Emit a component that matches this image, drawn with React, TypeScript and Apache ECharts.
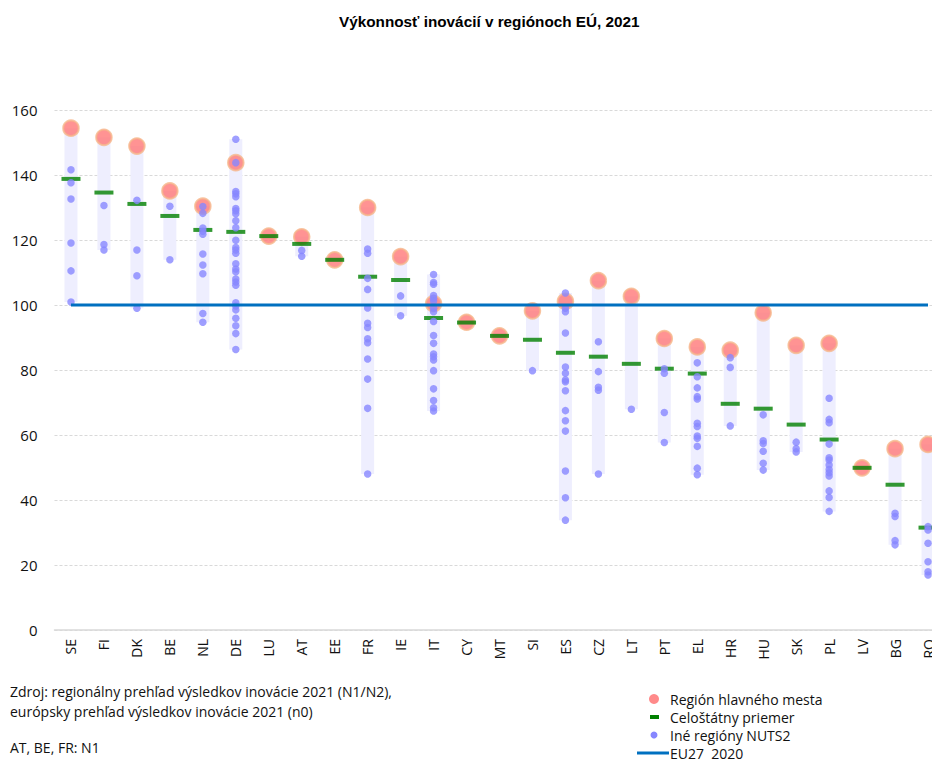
import React, { useEffect, useRef } from "react";
import * as echarts from "echarts";

const categories = ["SE","FI","DK","BE","NL","DE","LU","AT","EE","FR","IE","IT","CY","MT","SI","ES","CZ","LT","PT","EL","HR","HU","SK","PL","LV","BG","RO"];

const capitalRegion = [154.4,151.6,148.9,135.1,130.4,143.8,121.2,121.0,113.9,130.0,114.9,100.4,94.7,90.5,98.2,101.1,107.5,102.7,89.7,87.1,86.1,97.6,87.6,88.2,49.9,55.8,57.1];

const nationalAverage = [138.8,134.6,131.1,127.4,123.1,122.5,121.2,118.8,113.9,108.7,107.7,96.0,94.6,90.5,89.3,85.3,84.1,81.9,80.4,78.9,69.6,68.1,63.2,58.6,49.9,44.7,31.5];

const otherRegions: number[][] = [
  [141.6,137.6,132.6,119.1,110.5,100.9],
  [130.6,118.6,116.9],
  [132.2,116.9,109.0,99.0],
  [130.4,113.9],
  [130.3,128.2,123.7,122.7,121.8,115.7,112.3,109.6,97.4,94.7],
  [151.0,143.8,134.9,134.2,133.3,129.7,129.0,128.1,125.9,123.8,119.9,117.7,116.9,115.9,112.7,111.1,110.2,108.0,107.1,106.1,100.7,99.7,98.5,95.9,93.6,91.2,86.3],
  [],
  [116.8,115.0],
  [],
  [117.2,115.9,108.2,104.8,99.1,94.4,93.1,89.6,88.4,83.4,77.2,68.2,48.0],
  [102.8,96.7],
  [109.4,106.9,106.4,102.9,102.1,101.2,99.0,97.9,94.9,90.6,88.2,84.9,84.1,83.1,79.8,74.2,70.6,68.4,67.4],
  [],
  [],
  [79.8],
  [103.7,99.0,97.9,91.4,80.9,79.0,76.9,76.4,73.6,67.5,64.4,61.2,48.9,40.7,33.8],
  [88.7,79.5,74.7,73.8,48.0],
  [67.9],
  [80.4,79.0,66.9,57.7],
  [82.2,77.9,74.5,71.8,71.1,63.6,62.6,59.7,59.0,56.5,49.8,47.8],
  [83.8,80.8,62.8],
  [66.2,58.2,57.4,55.0,51.3,49.2],
  [57.8,55.8,54.8],
  [71.3,64.8,63.8,57.2,53.0,52.3,50.8,49.4,48.4,47.4,42.8,40.8,36.5],
  [],
  [35.9,34.9,27.5,26.2],
  [31.8,30.8,26.7,21.0,17.9,16.9],
];

const euReference = 100;
const yTicks = { min: 0, max: 160, interval: 20 };

const legendNames = ["Región hlavného mesta", "Celoštátny priemer", "Iné regióny NUTS2", "EU27  2020"];
const sourceLines = [
  "Zdroj: regionálny prehľad výsledkov inovácie 2021 (N1/N2),",
  "európsky prehľad výsledkov inovácie 2021 (n0)",
];
const noteLine = "AT, BE, FR: N1";
const titleText = "Výkonnosť inovácií v regiónoch EÚ, 2021";

const FONT = "'Open Sans', 'Noto Sans', sans-serif";

export default function App() {
  const ref = useRef<HTMLDivElement>(null);

  useEffect(() => {
    document.body.style.margin = "0";
    if (!ref.current) return;
    const chart = echarts.init(ref.current, null, { renderer: "svg" });

    const bandMin = categories.map((_, i) => {
      const all = [capitalRegion[i], ...otherRegions[i]];
      return Math.min(...all);
    });
    const bandRange = categories.map((_, i) => {
      const all = [capitalRegion[i], ...otherRegions[i]];
      return Math.max(...all) - Math.min(...all);
    });
    const otherPoints: [number, number][] = [];
    otherRegions.forEach((arr, i) => arr.forEach((v) => otherPoints.push([i, v])));

    const legendX = 639;
    const legendTextX = 670;
    const legendY = [699, 717, 735, 753];

    chart.setOption({
      animation: false,
      title: {
        text: titleText,
        left: 334,
        top: 9,
        textStyle: { fontFamily: "'Liberation Sans', Arial, sans-serif", fontWeight: "bold", fontSize: 15.3, color: "#000" },
      },
      grid: { left: 54.5, width: 890, top: 110, height: 520, containLabel: false, outerBoundsMode: "none" },
      xAxis: {
        type: "category",
        data: categories,
        boundaryGap: true,
        axisLine: { lineStyle: { color: "#d9d9d9", width: 1.5 } },
        axisTick: { show: false },
        axisLabel: { rotate: 90, fontSize: 14, color: "#111", fontFamily: FONT, margin: 9, interval: 0 },
      },
      yAxis: {
        type: "value",
        min: yTicks.min,
        max: yTicks.max,
        interval: yTicks.interval,
        axisLine: { show: false },
        axisTick: { show: false },
        axisLabel: { fontSize: 15, color: "#111", fontFamily: FONT, margin: 17 },
        splitLine: { lineStyle: { color: "#d9d9d9", type: [3, 2], width: 1 } },
      },
      series: [
        {
          type: "bar",
          stack: "band",
          data: bandMin,
          barWidth: 13,
          itemStyle: { color: "rgba(0,0,0,0)" },
          silent: true,
        },
        {
          type: "bar",
          stack: "band",
          data: bandRange,
          barWidth: 13,
          itemStyle: { color: "#EEEEFE" },
          silent: true,
        },
        {
          name: legendNames[3],
          type: "line",
          data: categories.map(() => euReference),
          symbol: "none",
          lineStyle: { color: "#0070C0", width: 3 },
        },
        {
          name: legendNames[0],
          type: "scatter",
          data: capitalRegion.map((v, i) => [i, v]),
          symbol: "circle",
          symbolSize: 15.5,
          itemStyle: { color: "#FF7878", borderColor: "#F6B58A", borderWidth: 2 },
        },
        {
          name: legendNames[1],
          type: "scatter",
          data: nationalAverage.map((v, i) => [i, v]),
          symbol: "rect",
          symbolSize: [19, 4],
          itemStyle: { color: "#008000" },
        },
        {
          name: legendNames[2],
          type: "scatter",
          data: otherPoints,
          symbol: "circle",
          symbolSize: 7.5,
          itemStyle: { color: "#8787FF" },
        },
      ],
      graphic: [
        ...sourceLines.map((t, i) => ({
          type: "text",
          left: 10,
          top: 684 + i * 20,
          style: { text: t, fontSize: 14, fontFamily: FONT, fill: "#111" },
        })),
        {
          type: "text",
          left: 10,
          top: 740,
          style: { text: noteLine, fontSize: 14, fontFamily: FONT, fill: "#111" },
        },
        { type: "circle", shape: { cx: legendX + 15, cy: legendY[0], r: 5 }, style: { fill: "#FF8A8A" } },
        { type: "rect", shape: { x: legendX + 11, y: legendY[1] - 2, width: 9, height: 4 }, style: { fill: "#008000" } },
        { type: "circle", shape: { cx: legendX + 15, cy: legendY[2], r: 3.5 }, style: { fill: "#8787FF" } },
        { type: "line", shape: { x1: legendX - 2, y1: legendY[3], x2: legendX + 30, y2: legendY[3] }, style: { stroke: "#0070C0", lineWidth: 3 } },
        ...legendNames.map((t, i) => ({
          type: "text",
          x: legendTextX,
          y: legendY[i],
          style: { text: t, fontSize: 14, fontFamily: FONT, fill: "#111", verticalAlign: "middle" },
        })),
      ],
    });

    return () => chart.dispose();
  }, []);

  return <div ref={ref} style={{ width: 932, height: 762 }} />;
}
